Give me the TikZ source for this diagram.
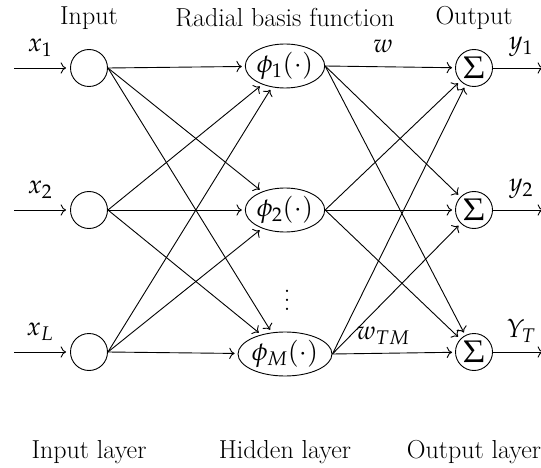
\documentclass[tikz,border=0pt]{standalone}
\usepackage{amsmath}
\usepackage{graphicx}
\usepackage{mathpazo}
\usetikzlibrary{shapes.geometric, arrows.meta}

\tikzset{
  unit/.style={draw, circle, minimum size=37pt, inner sep=0pt},
  rbf/.style={draw, ellipse, minimum width=76pt, minimum height=44pt, inner sep=0pt},
  link/.style={-{To[scale=1.5]}, shorten >=3pt},
}
\newcommand{\sumsign}{\scalebox{1.2}{$\Sigma$}}

\begin{document}
\begin{tikzpicture}[x=1pt, y=-1pt, line width=0.9pt, font=\fontsize{26}{30}\selectfont]
    \useasboundingbox (0,0) rectangle (541,468);

    % Input layer
    \node[unit] (in1) at (89,68) {};
    \node[unit] (in2) at (89,210) {};
    \node[unit] (in3) at (89,352) {};

    % Hidden layer
    \node[rbf] (h1) at (285,66) {$\phi_1(\cdot)$};
    \node[rbf] (h2) at (285,210) {$\phi_2(\cdot)$};
    \node[rbf] (h3) at (285,354) {$\phi_M(\cdot)$};
    \node[align=center, font=\fontsize{28}{9}\selectfont] (dots) at (287,300) {.\\.\\.};

    % Output layer
    \node[unit] (out1) at (474,68) {\sumsign};
    \node[unit] (out2) at (474,210) {\sumsign};
    \node[unit] (out3) at (474,352) {\sumsign};

    % Free ends of the input and output arrows
    \coordinate (src1) at (14,68);
    \coordinate (src2) at (14,210);
    \coordinate (src3) at (14,352);
    \coordinate (dst1) at (543,68);
    \coordinate (dst2) at (543,210);
    \coordinate (dst3) at (543,352);

    % Connections
    \foreach \i in {1,2,3} {
        \draw[link, shorten >=4pt] (src\i) -- (in\i);
        \draw[link, shorten >=0pt] (out\i) -- (dst\i);
        \foreach \j in {1,2,3} {
            \draw[link] (in\i.east) -- (h\j);
            \draw[link] (h\i.east) -- (out\j);
        }
    }

    % Signal labels
    \node (lx1) at (40,48) {$x_1$};
    \node (lx2) at (40,190) {$x_2$};
    \node (lxL) at (40,332) {$x_L$};
    \node (ly1) at (521,47) {$y_1$};
    \node (ly2) at (521,189) {$y_2$};
    \node (lyT) at (521,331) {$Y_T$};
    \node (lw) at (383,46) {$w$};
    \node (lwTM) at (383,336) {$w_{TM}$};

    % Layer titles
    \node (t1) at (89,18) {Input};
    \node (t2) at (285,18) {Radial basis function};
    \node (t3) at (474,18) {Output};
    \node (b1) at (89,452) {Input layer};
    \node (b2) at (285,452) {Hidden layer};
    \node (b3) at (474,452) {Output layer};
\end{tikzpicture}
\end{document}
